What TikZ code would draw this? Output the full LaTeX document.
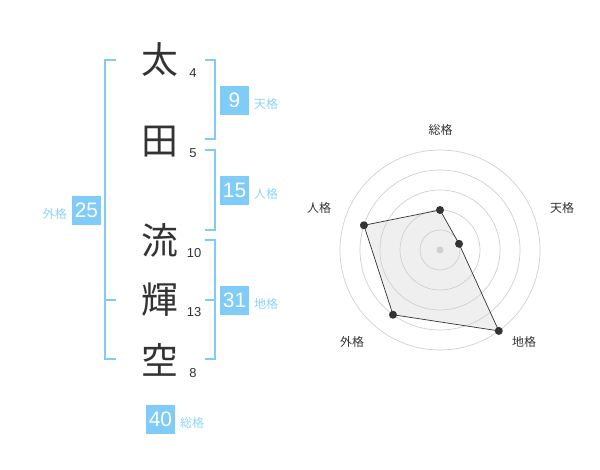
\documentclass[tikz,border=0pt]{standalone}
\usepackage{fontspec}
\setmainfont{Liberation Sans}
\newfontfamily\jpfont{Noto Sans CJK JP}
\definecolor{accent}{HTML}{80CCF8}
\definecolor{labelblue}{HTML}{8FD2F8}
\definecolor{ink}{HTML}{333333}
\definecolor{ringgray}{HTML}{D0D0D0}
\definecolor{areafill}{HTML}{EFEFEF}
\tikzset{
  kanji/.style={inner sep=0pt, text=ink, font=\jpfont\fontsize{37}{37}\selectfont},
  strokes/.style={inner sep=0pt, text=ink, font=\fontsize{13}{13}\selectfont},
  scorebox/.style={fill=accent, text=white, minimum width=29bp, minimum height=29bp, inner sep=0pt, font=\fontsize{21}{21}\selectfont},
  kakulabel/.style={inner sep=0pt, text=labelblue, font=\jpfont\fontsize{12}{12}\selectfont},
  bracket/.style={draw=accent, line width=1.6bp},
  ring/.style={draw=ringgray, line width=0.7bp},
  axislabel/.style={inner sep=0pt, text=ink, font=\jpfont\fontsize{12}{12}\selectfont},
  dot/.style={circle, fill=ink, inner sep=0pt, minimum size=8bp},
}
\begin{document}
\begin{tikzpicture}[x=1bp,y=-1bp]
\useasboundingbox (0,0) rectangle (600,470);
% name characters
\node[kanji] (k1) at (160,60) {太};
\node[kanji] (k2) at (160,142) {田};
\node[kanji] (k3) at (160,240) {流};
\node[kanji] (k4) at (160,300) {輝};
\node[kanji] (k5) at (160,360) {空};
% stroke counts
\node[strokes] (s1) at (193,73) {4};
\node[strokes] (s2) at (193,153) {5};
\node[strokes] (s3) at (194,253) {10};
\node[strokes] (s4) at (194,312) {13};
\node[strokes] (s5) at (193,373) {8};
% brackets
\draw[bracket] (116,60) -- (105,60) -- (105,359) -- (116,359);
\draw[bracket] (105,300) -- (116,300);
\draw[bracket] (205,60) -- (215,60) -- (215,139) -- (205,139);
\draw[bracket] (205,150) -- (215,150) -- (215,230) -- (205,230);
\draw[bracket] (205,240) -- (215,240) -- (215,359) -- (205,359);
\draw[bracket] (205,300) -- (215,300);
% score boxes
\node[scorebox] (ten) at (234.5,100.5) {9};
\node[kakulabel, anchor=west] (tenl) at (254,104) {天格};
\node[scorebox] (jin) at (234.5,190.5) {15};
\node[kakulabel, anchor=west] (jinl) at (254,194) {人格};
\node[scorebox] (gai) at (86.5,210.5) {25};
\node[kakulabel, anchor=east] (gail) at (67,214) {外格};
\node[scorebox] (chi) at (234.5,300.5) {31};
\node[kakulabel, anchor=west] (chil) at (254,304) {地格};
\node[scorebox] (sou) at (160.5,419) {40};
\node[kakulabel, anchor=west] (soul) at (180,423) {総格};
% radar chart
\begin{scope}[shift={(440,250)}]
  \coordinate (pS) at (-90:40);
  \coordinate (pT) at (-18:20);
  \coordinate (pC) at (54:100);
  \coordinate (pG) at (126:80);
  \coordinate (pJ) at (198:80);
  \fill[areafill] (pS) -- (pT) -- (pC) -- (pG) -- (pJ) -- cycle;
  \foreach \r in {20,40,60,80,100} \draw[ring] (0,0) circle[radius=\r bp];
  \node[circle, fill=ringgray, inner sep=0pt, minimum size=7bp] (ctr) at (0,0) {};
  \draw[draw=ink, line width=0.7bp] (pS) -- (pT) -- (pC) -- (pG) -- (pJ) -- cycle;
  \foreach \p in {pS,pT,pC,pG,pJ} \node[dot] (d\p) at (\p) {};
  \node[axislabel] (aS) at (0.5,-120) {総格};
  \node[axislabel] (aT) at (122,-42) {天格};
  \node[axislabel] (aC) at (84,92) {地格};
  \node[axislabel] (aG) at (-88,92) {外格};
  \node[axislabel] (aJ) at (-121,-42) {人格};
\end{scope}
\end{tikzpicture}
\end{document}
